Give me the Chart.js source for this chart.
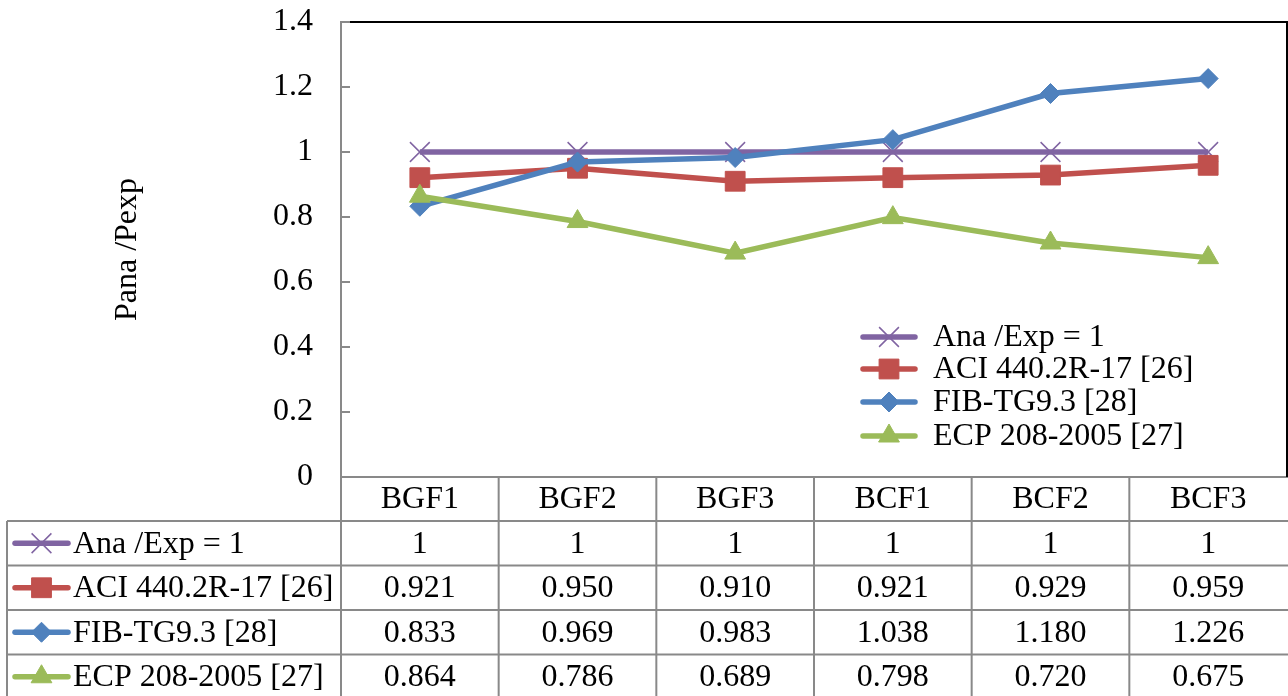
<!DOCTYPE html>
<html>
<head>
<meta charset="utf-8">
<script src="https://cdn.jsdelivr.net/npm/chart.js@4/dist/chart.umd.min.js"></script>
<style>
  body { margin: 0; background: #fff; }
  canvas { display: block; }
</style>
</head>
<body>
<canvas id="chart" width="1288" height="696"></canvas>
<script>
const labels = ["BGF1", "BGF2", "BGF3", "BCF1", "BCF2", "BCF3"];
const seriesNames = ["Ana /Exp = 1", "ACI 440.2R-17 [26]", "FIB-TG9.3 [28]", "ECP 208-2005 [27]"];
const anaExp = [1, 1, 1, 1, 1, 1];
const aci = [0.921, 0.950, 0.910, 0.921, 0.929, 0.959];
const fib = [0.833, 0.969, 0.983, 1.038, 1.180, 1.226];
const ecp = [0.864, 0.786, 0.689, 0.798, 0.720, 0.675];
const tableDecimals = [0, 3, 3, 3];
const yTicks = [0, 0.2, 0.4, 0.6, 0.8, 1, 1.2, 1.4];

const FONT = "'Liberation Serif', 'Times New Roman', serif";
const FS = 32;
const GREY = "#898989";

const styles = [
  { color: "#8064A2", pointStyle: "crossRot", radius: 14, pbw: 1.5 },
  { color: "#C0504D", pointStyle: "rect", radius: 14, pbw: 1 },
  { color: "#4F81BD", pointStyle: "rectRot", radius: 10, pbw: 1 },
  { color: "#9BBB59", pointStyle: "triangle", radius: 12, pbw: 1 }
];
const allData = [anaExp, aci, fib, ecp];

function drawMarker(ctx, s, x, y) {
  ctx.save();
  ctx.fillStyle = s.color;
  ctx.strokeStyle = s.color;
  ctx.lineWidth = s.pbw;
  Chart.helpers.drawPoint(ctx, { pointStyle: s.pointStyle, radius: s.radius, rotation: 0, borderWidth: s.pbw }, x, y);
  ctx.restore();
}

function drawKey(ctx, s, x1, x2, y) {
  ctx.save();
  ctx.strokeStyle = s.color;
  ctx.lineWidth = 5.5;
  ctx.lineCap = "round";
  ctx.beginPath();
  ctx.moveTo(x1, y);
  ctx.lineTo(x2, y);
  ctx.stroke();
  ctx.restore();
  drawMarker(ctx, s, (x1 + x2) / 2, y);
}

const extras = {
  id: "extras",
  afterDraw(chart) {
    const ctx = chart.ctx;
    const area = chart.chartArea;
    const xs = chart.scales.x;
    const ys = chart.scales.y;

    // plot border top / right
    ctx.save();
    ctx.strokeStyle = "#000";
    ctx.lineWidth = 2;
    ctx.beginPath();
    ctx.moveTo(area.left, area.top);
    ctx.lineTo(area.right, area.top);
    ctx.lineTo(area.right, area.bottom);
    ctx.stroke();

    // inner tick marks on the value axis
    ctx.strokeStyle = GREY;
    ctx.lineWidth = 2;
    yTicks.forEach(v => {
      const y = ys.getPixelForValue(v);
      ctx.beginPath();
      ctx.moveTo(area.left, y);
      ctx.lineTo(area.left + 9, y);
      ctx.stroke();
    });

    // data table
    const headH = 44;
    const rowH = 44.5;
    const tableLeft = 7;
    const tableBottom = chart.height + 2;
    const colW = (area.right - area.left) / labels.length;
    ctx.beginPath();
    for (let i = 0; i < labels.length; i++) {
      const x = area.left + i * colW;
      ctx.moveTo(x, area.bottom);
      ctx.lineTo(x, tableBottom);
    }
    ctx.moveTo(tableLeft, area.bottom + headH);
    ctx.lineTo(tableLeft, tableBottom);
    for (let r = 0; r < allData.length; r++) {
      const y = area.bottom + headH + r * rowH;
      ctx.moveTo(tableLeft, y);
      ctx.lineTo(area.right + 2, y);
    }
    ctx.stroke();

    ctx.fillStyle = "#000";
    ctx.font = FS + "px " + FONT;
    ctx.textBaseline = "middle";
    allData.forEach((vals, r) => {
      const cy = area.bottom + headH + r * rowH + rowH / 2;
      ctx.textAlign = "center";
      vals.forEach((v, i) => {
        ctx.fillText(v.toFixed(tableDecimals[r]), xs.getPixelForValue(i), cy + 1);
      });
      ctx.textAlign = "left";
      ctx.fillText(seriesNames[r], 73, cy + 1);
      drawKey(ctx, styles[r], 15, 68, cy);
    });

    // legend inside the plot
    const legY = [337, 369, 402, 436];
    ctx.fillStyle = "#000";
    ctx.textAlign = "left";
    seriesNames.forEach((name, r) => {
      drawKey(ctx, styles[r], 863, 915, legY[r]);
      ctx.fillText(name, 933, legY[r] + 1);
    });
    ctx.restore();
  }
};

new Chart(document.getElementById("chart"), {
  type: "line",
  data: {
    labels: labels,
    datasets: allData.map((vals, i) => ({
      label: seriesNames[i],
      data: vals,
      borderColor: styles[i].color,
      backgroundColor: styles[i].color,
      borderWidth: 5.5,
      pointStyle: styles[i].pointStyle,
      pointRadius: styles[i].radius,
      pointHoverRadius: styles[i].radius,
      pointBorderWidth: styles[i].pbw,
      pointBackgroundColor: styles[i].color,
      pointBorderColor: styles[i].color,
      tension: 0,
      order: 4 - i
    }))
  },
  options: {
    responsive: false,
    animation: false,
    layout: { autoPadding: false, padding: { top: 22, right: 1, left: 0, bottom: 0 } },
    plugins: { legend: { display: false }, tooltip: { enabled: false } },
    scales: {
      x: {
        offset: true,
        grid: { display: false, drawTicks: false },
        border: { display: true, color: GREY, width: 2 },
        ticks: { color: "#000", font: { family: FONT, size: FS }, padding: 3, maxRotation: 0 },
        afterFit: s => { s.height = 219; s.paddingLeft = 0; s.paddingRight = 0; }
      },
      y: {
        min: 0,
        max: 1.4,
        afterBuildTicks: s => { s.ticks = yTicks.map(v => ({ value: v })); },
        grid: { display: false, drawTicks: false },
        border: { display: true, color: GREY, width: 2 },
        ticks: {
          color: "#000",
          font: { family: FONT, size: FS },
          padding: 28,
          callback: v => String(+Number(v).toFixed(1))
        },
        title: {
          display: true,
          text: "Pana /Pexp",
          color: "#000",
          font: { family: FONT, size: FS },
          padding: { top: 108, bottom: 0 }
        },
        afterFit: s => { s.width = 341; s.paddingTop = 0; s.paddingBottom = 0; }
      }
    }
  },
  plugins: [extras]
});
</script>
</body>
</html>
